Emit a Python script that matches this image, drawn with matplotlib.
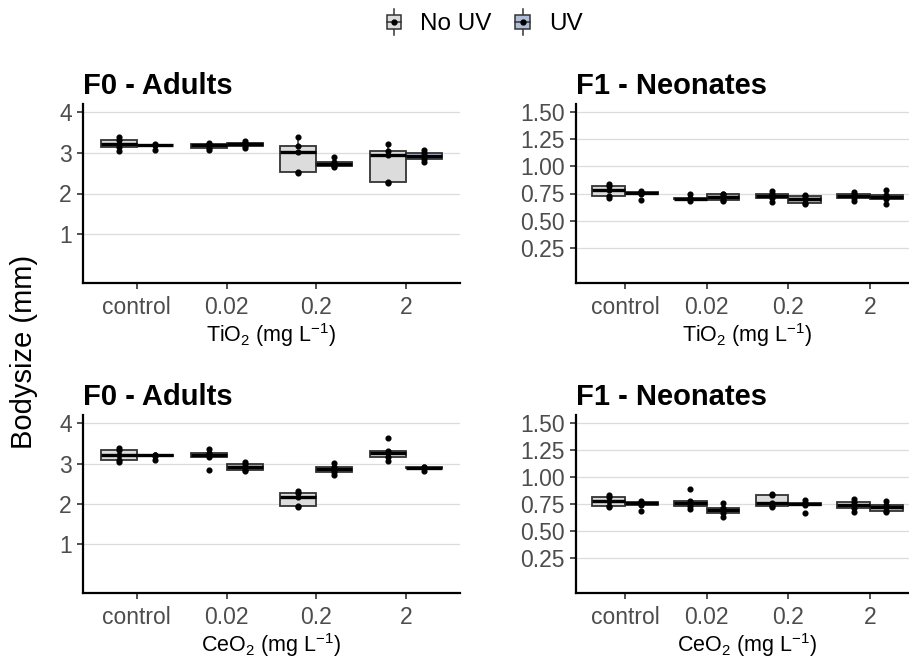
import numpy as np
import matplotlib
matplotlib.use("Agg")
from matplotlib import pyplot as plt
from matplotlib.patches import Patch, Rectangle
from matplotlib.lines import Line2D
from matplotlib.legend_handler import HandlerBase

plt.rcParams['font.family'] = ['Liberation Sans', 'DejaVu Sans']
plt.rcParams['mathtext.fontset'] = 'custom'
plt.rcParams['mathtext.rm'] = 'Liberation Sans'
plt.rcParams['mathtext.it'] = 'Liberation Sans:italic'

# concentrations and treatments
groups = ["control", "0.02", "0.2", "2"]
treatments = ["No UV", "UV"]
fill_colors = ["#dcdcdc", "#b1bcd6"]

# body sizes (mm), one list of replicates per concentration
tio2_f0_nouv = [[3.04, 3.14, 3.22, 3.31, 3.39], [3.07, 3.12, 3.18, 3.21, 3.24],
                [2.50, 2.54, 3.01, 3.16, 3.39], [2.27, 2.29, 2.94, 3.04, 3.21]]
tio2_f0_uv = [[3.08, 3.18, 3.19, 3.20, 3.22], [3.12, 3.17, 3.22, 3.25, 3.30],
              [2.66, 2.68, 2.72, 2.77, 2.89], [2.78, 2.84, 2.91, 2.99, 3.06]]
tio2_f1_nouv = [[0.71, 0.73, 0.78, 0.82, 0.835], [0.68, 0.695, 0.70, 0.705, 0.745],
                [0.67, 0.705, 0.725, 0.745, 0.775], [0.685, 0.71, 0.73, 0.745, 0.765]]
tio2_f1_uv = [[0.69, 0.745, 0.755, 0.765, 0.775], [0.68, 0.69, 0.715, 0.745, 0.75],
              [0.65, 0.665, 0.70, 0.73, 0.74], [0.655, 0.70, 0.72, 0.74, 0.785]]
ceo2_f0_nouv = [[3.05, 3.10, 3.22, 3.34, 3.39], [2.84, 3.15, 3.20, 3.26, 3.35],
                [1.92, 1.94, 2.17, 2.28, 2.31], [3.07, 3.15, 3.25, 3.32, 3.63]]
ceo2_f0_uv = [[3.09, 3.19, 3.20, 3.21, 3.22], [2.81, 2.84, 2.92, 2.99, 3.05],
              [2.72, 2.79, 2.87, 2.91, 3.01], [2.82, 2.89, 2.90, 2.91, 2.92]]
ceo2_f1_nouv = [[0.72, 0.735, 0.775, 0.815, 0.835], [0.70, 0.73, 0.76, 0.775, 0.89],
                [0.725, 0.73, 0.755, 0.835, 0.845], [0.675, 0.715, 0.745, 0.765, 0.795]]
ceo2_f1_uv = [[0.685, 0.74, 0.755, 0.77, 0.775], [0.63, 0.665, 0.69, 0.71, 0.76],
              [0.67, 0.74, 0.75, 0.76, 0.785], [0.675, 0.685, 0.725, 0.745, 0.775]]

adult_ticks = [1, 2, 3, 4]
neonate_ticks = [0.25, 0.50, 0.75, 1.00, 1.25, 1.50]

panels = [
    ("F0 - Adults", tio2_f0_nouv, tio2_f0_uv, adult_ticks, (0, 4), "%d", "TiO$_2$ (mg L$^{-1}$)"),
    ("F1 - Neonates", tio2_f1_nouv, tio2_f1_uv, neonate_ticks, (0, 1.5), "%.2f", "TiO$_2$ (mg L$^{-1}$)"),
    ("F0 - Adults", ceo2_f0_nouv, ceo2_f0_uv, adult_ticks, (0, 4), "%d", "CeO$_2$ (mg L$^{-1}$)"),
    ("F1 - Neonates", ceo2_f1_nouv, ceo2_f1_uv, neonate_ticks, (0, 1.5), "%.2f", "CeO$_2$ (mg L$^{-1}$)"),
]

# axes rectangles in figure fraction (the right column runs past the edge, as in the original)
W, H = 909, 659
rects = [
    (83 / W, (H - 283) / H, 377 / W, 179 / H),
    (576 / W, (H - 283) / H, 343 / W, 179 / H),
    (83 / W, (H - 593) / H, 377 / W, 178 / H),
    (576 / W, (H - 593) / H, 343 / W, 178 / H),
]


class BoxHandler(HandlerBase):
    def create_artists(self, legend, orig_handle, xdescent, ydescent, width, height, fontsize, trans):
        x0, y0 = -xdescent, -ydescent
        cx = x0 + width / 2
        box = Rectangle((x0 + width * 0.1, y0 + height * 0.15), width * 0.8, height * 0.7,
                        facecolor=orig_handle.get_facecolor(), edgecolor="#333333", lw=1.1, transform=trans)
        whisk = Line2D([cx, cx], [y0 - height * 0.15, y0 + height * 1.15], color="#333333", lw=1.1, transform=trans)
        med = Line2D([x0 + width * 0.1, x0 + width * 0.9], [y0 + height / 2] * 2, color="#333333", lw=1.1, transform=trans)
        dot = Line2D([cx], [y0 + height / 2], marker="o", ms=3.5, color="black", transform=trans)
        return [whisk, box, med, dot]


fig = plt.figure(figsize=(9.09, 6.59), dpi=100)
xpos = np.arange(1, len(groups) + 1)

for (title, nouv, uv, yticks, lim, fmt, xlab), r in zip(panels, rects):
    ax = fig.add_axes(r)
    for k, (vals, offset) in enumerate([(nouv, -0.2), (uv, 0.2)]):
        pos = xpos + offset
        bp = ax.boxplot(vals, positions=pos, widths=0.4, patch_artist=True, showfliers=False,
                        showcaps=False, whis=1.5, manage_ticks=False, zorder=3)
        for b in bp["boxes"]:
            b.set(facecolor=fill_colors[k], edgecolor="#333333", linewidth=1.3)
        for w in bp["whiskers"]:
            w.set(color="#333333", linewidth=1.1)
        for m in bp["medians"]:
            m.set(color="black", linewidth=2.4, solid_capstyle="butt")
        for p, v in zip(pos, vals):
            ax.plot([p] * len(v), v, "o", color="black", ms=3.4, zorder=4)

    span = lim[1] - lim[0]
    ax.set_ylim(lim[0] - 0.05 * span, lim[1] + 0.05 * span)
    ax.set_xlim(0.4, len(groups) + 0.6)
    ax.set_yticks(yticks)
    ax.set_yticklabels([fmt % t for t in yticks])
    ax.set_xticks(xpos)
    ax.set_xticklabels(groups)
    ax.yaxis.grid(True, color="#dcdcdc", lw=0.9)
    ax.set_axisbelow(True)
    for s in ["top", "right"]:
        ax.spines[s].set_visible(False)
    for s in ["left", "bottom"]:
        ax.spines[s].set_linewidth(1.6)
        ax.spines[s].set_color("black")
    ax.tick_params(axis="both", length=4, width=1.2, color="#333333", labelcolor="#4d4d4d",
                   labelsize=16.5, pad=4)
    ax.tick_params(axis="x", pad=5)
    ax.set_xlabel(xlab, fontsize=15.5, labelpad=2)
    ax.set_title(title, loc="left", fontsize=21, fontweight="bold", pad=7)

fig.text(0.026, (H - 352) / H, "Bodysize (mm)", rotation=90, fontsize=21, ha="center", va="center")

handles = [Patch(facecolor=c, edgecolor="#333333") for c in fill_colors]
fig.legend(handles, treatments, handler_map={Patch: BoxHandler()}, loc="upper center",
           bbox_to_anchor=(0.532, 1.015), ncol=2, frameon=False, fontsize=17.5,
           handlelength=0.75, handleheight=0.9, handletextpad=0.7, columnspacing=0.9)

fig.savefig("out.png", dpi=100)
